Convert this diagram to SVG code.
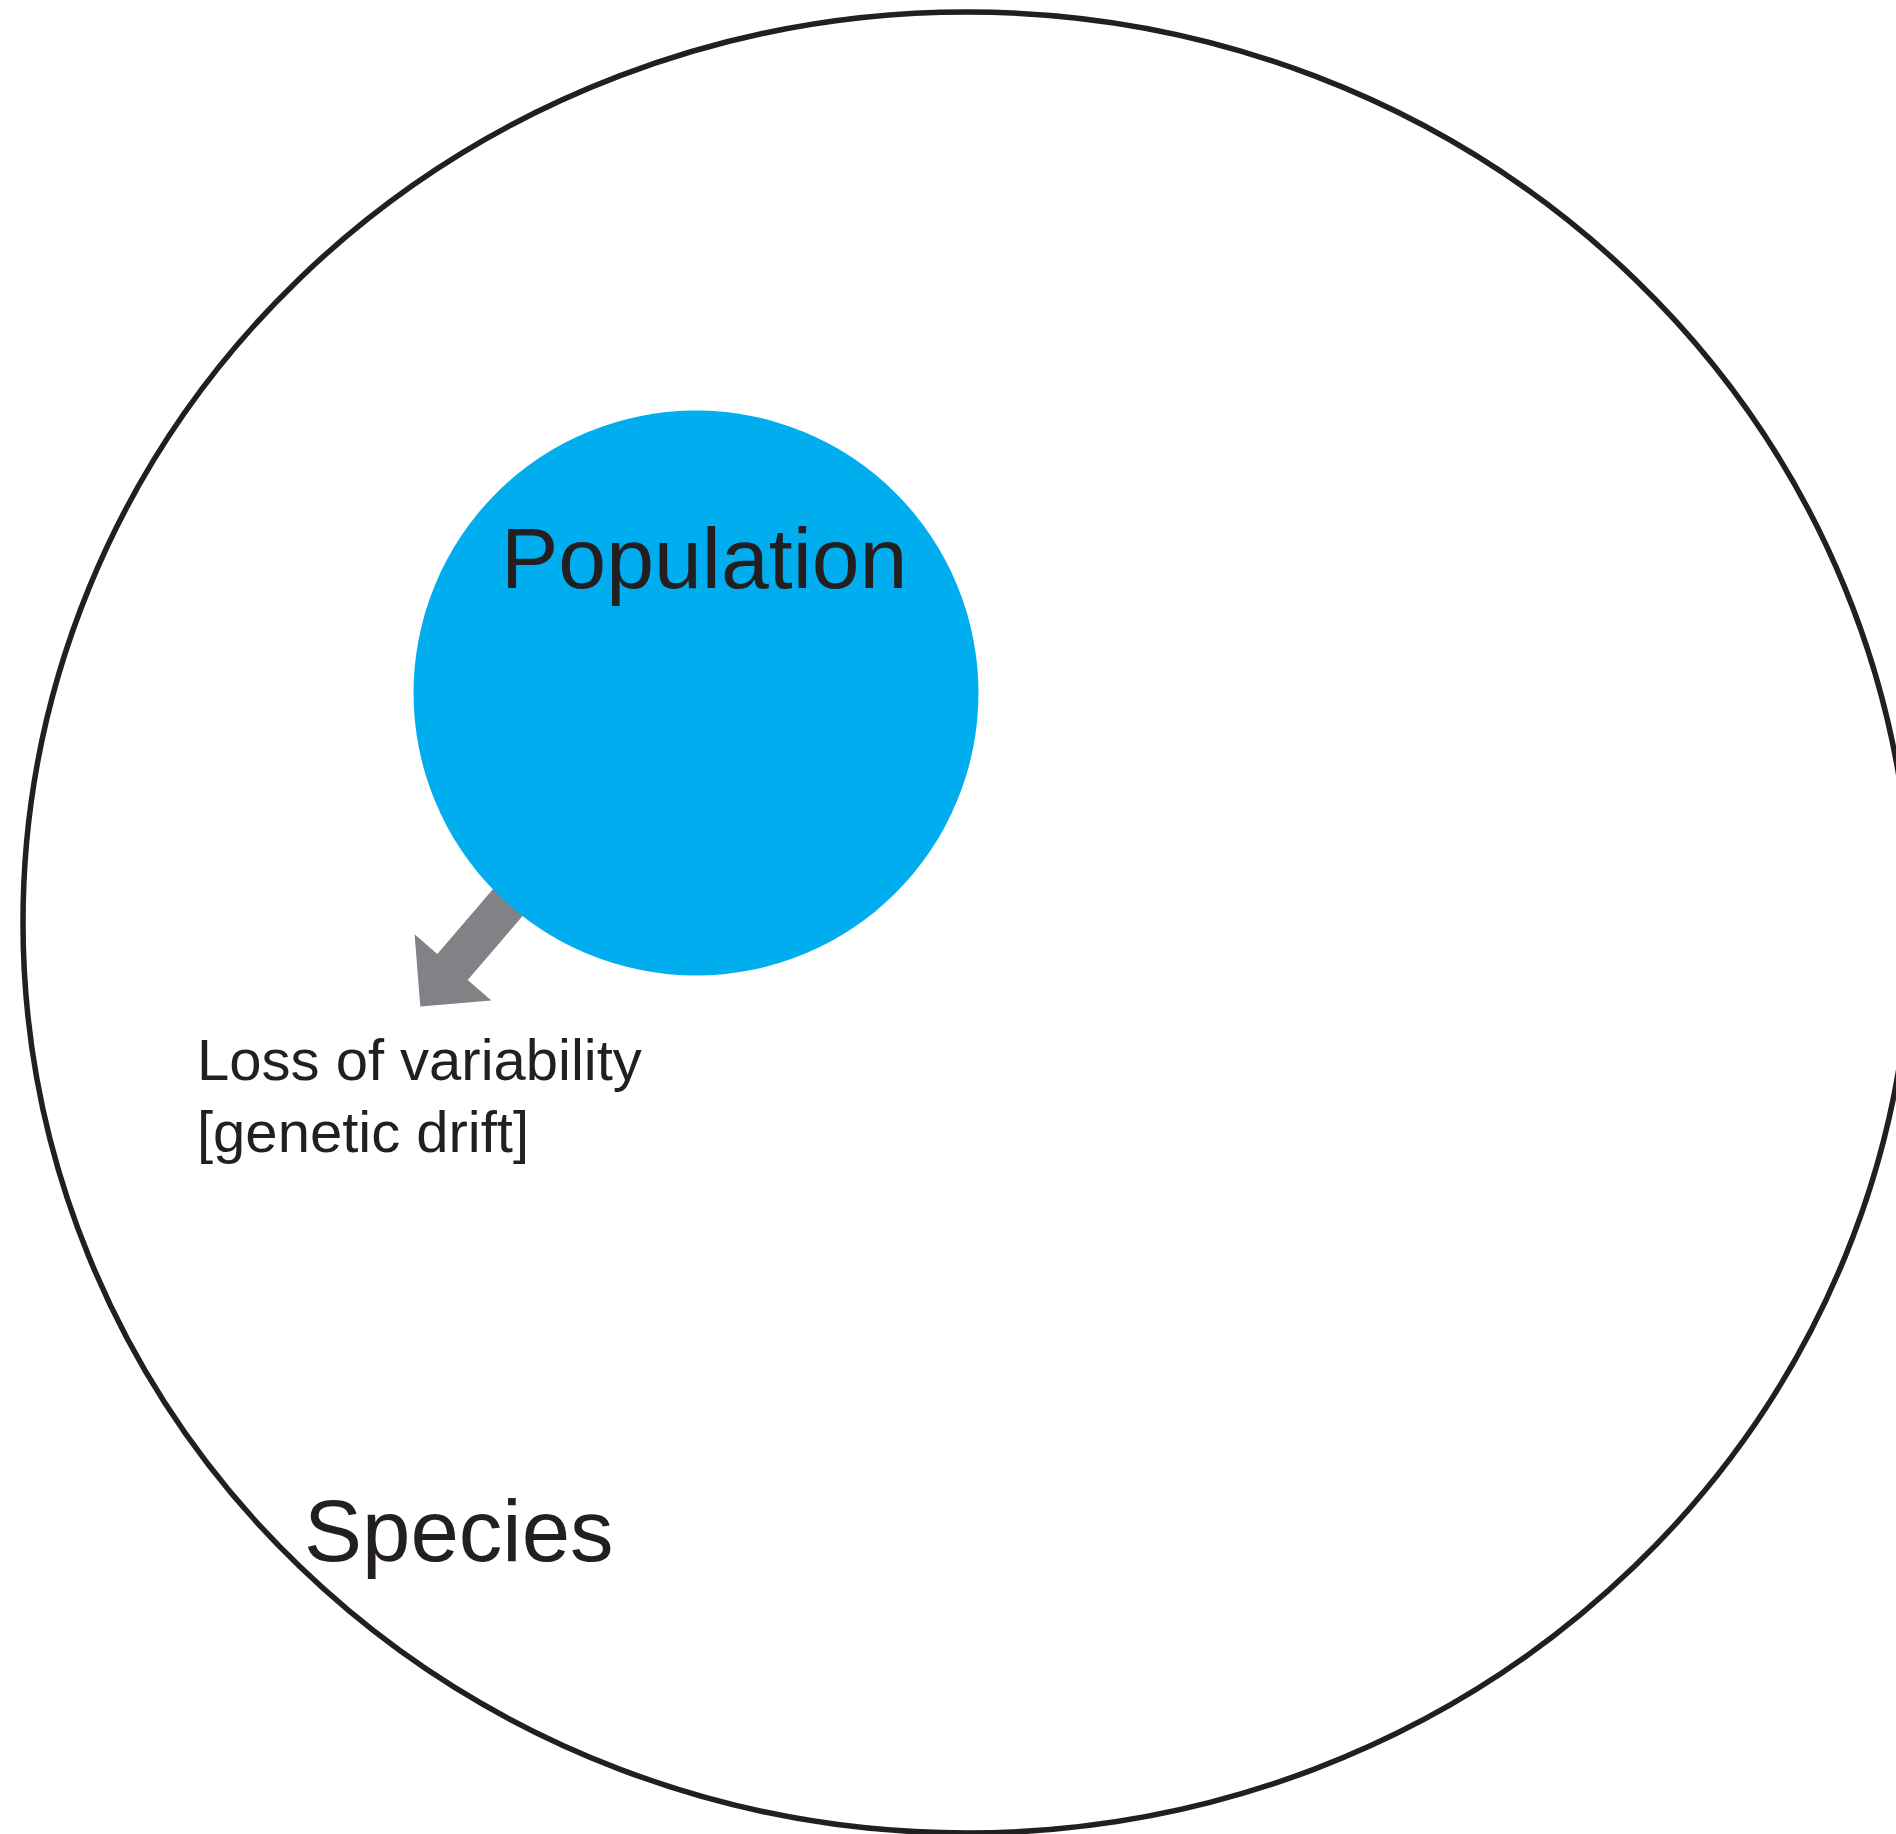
<svg xmlns="http://www.w3.org/2000/svg" width="1896" height="1834" viewBox="0 0 1896 1834">
<style>
.lbl{font-family:"Liberation Sans",Arial,sans-serif;fill:#231F20}
.big{font-size:86px}
.small{font-size:58px}
</style>
<rect x="0" y="0" width="1896" height="1834" fill="#ffffff"/>
<g id="species">
<ellipse cx="967" cy="922.5" rx="944" ry="910.5" fill="none" stroke="#231F20" stroke-width="5.5"/>
<text class="lbl big" x="304" y="1561" style="font-size:87px">Species</text>
</g>
<g id="connectors">
<polygon points="527.8,848.5 558.2,874.5 467.7,979.9 491.4,1000.4 420.3,1006.5 414.6,934.3 437.3,953.9" fill="#808285"/>
</g>
<g id="population">
<circle cx="696" cy="693" r="282.5" fill="#00AEEF"/>
<text class="lbl big" x="501" y="588">Population</text>
</g>
<g id="drift-label">
<text class="lbl small" x="197" y="1080">Loss of variability</text>
<text class="lbl small" x="197" y="1152">[genetic drift]</text>
</g>
</svg>
